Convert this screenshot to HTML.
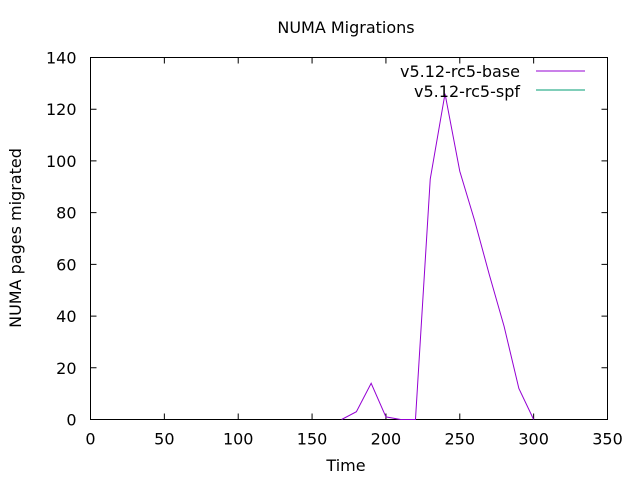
<!DOCTYPE html>
<html><head><meta charset="utf-8"><style>
body{margin:0;background:#fff;}
svg text{font-family:"DejaVu Sans","Liberation Sans",sans-serif;font-size:16px;fill:#000;}
</style></head><body>
<svg id="chart" width="640" height="480" xmlns="http://www.w3.org/2000/svg">
<rect width="640" height="480" fill="#fff"/>
<text x="346" y="33" text-anchor="middle">NUMA Migrations</text>
<text x="346" y="471" text-anchor="middle">Time</text>
<text transform="translate(21,238) rotate(-90)" text-anchor="middle">NUMA pages migrated</text>
<g id="axes"></g>
<rect x="90.5" y="57.5" width="517" height="362" fill="none" stroke="#000" stroke-width="1"/>
<g id="series"></g>
<g>
<text x="520" y="77" text-anchor="end">v5.12-rc5-base</text>
<line x1="536" y1="71" x2="585" y2="71" stroke="#9400d3" stroke-width="1"/>
<text x="520" y="97" text-anchor="end">v5.12-rc5-spf</text>
<line x1="536" y1="90" x2="585" y2="90" stroke="#009e73" stroke-width="1"/>
</g>
</svg>
<script>
const xTicks=[0,50,100,150,200,250,300,350];
const yTicks=[0,20,40,60,80,100,120,140];
const baseX=[170,180,190,200,210,220,230,240,250,260,270,280,290,300];
const baseY=[0,3,14,1,0,0,93,126,96,77,56,36,12,0];
const spfX=[];
const spfY=[];
const NS="http://www.w3.org/2000/svg";
const X0=90.5,X1=607.5,Y0=419.5,Y1=57.5;
function sx(v){return X0+(v-0)/(350-0)*(X1-X0);}
function sy(v){return Y0-(v-0)/(140-0)*(Y0-Y1);}
const axes=document.getElementById('axes');
xTicks.forEach(t=>{
 const x=sx(t);
 const l=document.createElementNS(NS,'path');
 l.setAttribute('d',`M${x},${Y0}v-6M${x},${Y1}v6`);
 l.setAttribute('stroke','#000');
 
 
 axes.appendChild(l);
 const tx=document.createElementNS(NS,'text');
 tx.setAttribute('x',x);tx.setAttribute('y',Y0+25);tx.setAttribute('text-anchor','middle');
 tx.textContent=t;
 
 
 axes.appendChild(tx);
});
yTicks.forEach(t=>{
 const y=sy(t);
 const l=document.createElementNS(NS,'path');
 l.setAttribute('d',`M${X0},${y}h6M${X1},${y}h-6`);
 l.setAttribute('stroke','#000');
 
 
 axes.appendChild(l);
 const tx=document.createElementNS(NS,'text');
 tx.setAttribute('x',X0-14);tx.setAttribute('y',y+6);tx.setAttribute('text-anchor','end');
 tx.textContent=t;
 
 
 axes.appendChild(tx);
});
const series=document.getElementById('series');
function drawLine(xs,ys,color,name){
 if(!xs.length)return;
 const p=document.createElementNS(NS,'polyline');
 p.setAttribute('points',xs.map((v,i)=>sx(v)+','+sy(ys[i])).join(' '));
 p.setAttribute('fill','none');p.setAttribute('stroke',color);p.setAttribute('stroke-width','1');
 
 
 series.appendChild(p);
}
drawLine(baseX,baseY,'#9400d3','series-base-line');
drawLine(spfX,spfY,'#009e73','series-spf-line');
</script>
</body></html>
